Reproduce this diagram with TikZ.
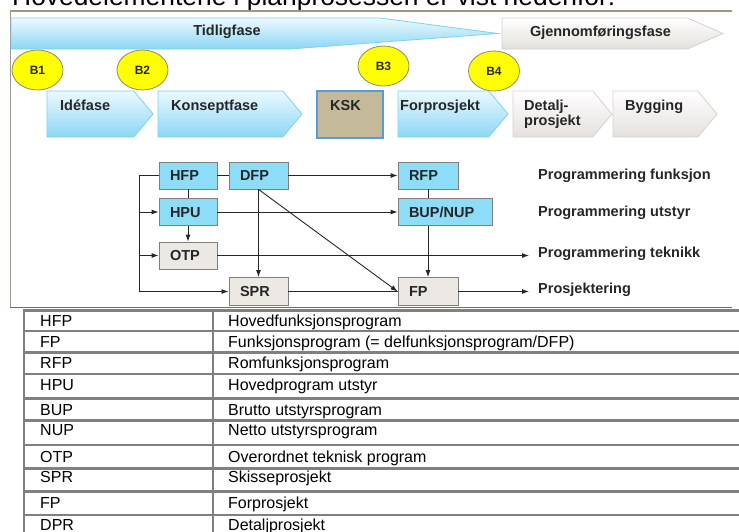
\documentclass[tikz,border=0pt]{standalone}
\usepackage{fontspec}
\setmainfont{Liberation Sans}
\usetikzlibrary{shapes.geometric,shapes.symbols,arrows.meta}
\definecolor{bleunoeud}{RGB}{141,221,248}
\definecolor{grisnoeud}{RGB}{236,233,229}
\definecolor{bordgris}{RGB}{128,128,128}
\definecolor{jaune}{RGB}{255,255,0}
\definecolor{bordjaune}{RGB}{140,140,100}
\definecolor{cielclair}{RGB}{236,249,254}
\definecolor{ciel}{RGB}{140,215,244}
\definecolor{bordciel}{RGB}{125,210,242}
\definecolor{perle}{RGB}{228,225,221}
\definecolor{bordperle}{RGB}{214,210,205}
\definecolor{sable}{RGB}{196,186,153}
\definecolor{bordksk}{RGB}{91,155,213}
\definecolor{cadre}{RGB}{160,150,135}
\definecolor{sarcelle}{RGB}{70,128,128}
\definecolor{ligne}{RGB}{128,128,128}
\begin{document}
\begin{tikzpicture}[x=1pt,y=-1pt]
\useasboundingbox (0,0) rectangle (739,531);
% définition des styles
\tikzstyle{etiquette}=[inner sep=0pt,font=\fontsize{14.5}{15}\selectfont\bfseries,text=black!85]
\tikzstyle{phase}=[signal,signal to=east,signal from=nowhere,signal pointer angle=100,minimum height=46pt,inner sep=0pt,line width=0.8pt,draw=bordciel,top color=cielclair,bottom color=ciel]
\tikzstyle{phasegrise}=[phase,draw=bordperle,top color=white,bottom color=perle]
\tikzstyle{jalon}=[ellipse,draw=bordjaune,line width=0.8pt,fill=jaune,minimum width=51pt,minimum height=40pt,inner sep=0pt,font=\fontsize{12}{14}\selectfont\bfseries,text=black!85]
\tikzstyle{boite}=[rectangle,draw=bordgris,line width=0.8pt,fill=bleunoeud,minimum height=27pt,inner xsep=11pt,inner ysep=0pt,align=left,text height=10.5pt,text depth=0pt,font=\fontsize{14.5}{15}\selectfont\bfseries,text=black!85]
\tikzstyle{boitegrise}=[boite,fill=grisnoeud]
\tikzstyle{trait}=[draw=black!85,line width=0.9pt]
\tikzstyle{fleche}=[trait,-{Latex[length=7pt,width=5pt]}]
\tikzstyle{cellule}=[anchor=base west,inner sep=0pt,font=\fontsize{16}{19}\selectfont]
\tikzstyle{grille}=[draw=ligne,line width=2.8pt]
% le titre et le cadre
\node[anchor=base west,inner sep=0pt,font=\fontsize{26.4}{30}\selectfont] (TITRE) at (12,5) {Hovedelementene i planprosessen er vist nedenfor:};
\draw[cadre,line width=1.5pt] (732,11) -- (10.5,11) -- (10.5,307.5);
\draw[sarcelle,line width=1.8pt] (10,307.5) -- (732,307.5);
% les deux grandes phases
\shade[top color=cielclair,bottom color=ciel,draw=bordciel,line width=0.8pt] (11,18) -- (380,18) -- (498,33.5) -- (290,49) -- (11,49) -- cycle;
\node[etiquette] (TID) at (227,32) {Tidligfase};
\node[phasegrise,minimum width=221pt,minimum height=31pt,signal pointer angle=47] (GJE) at (594.7,33.5) {};
\node[etiquette] (GJEt) at (600.5,33) {Gjennomføringsfase};
% les phases
\node[phase,minimum width=106pt] (IDE) at (90.4,114) {};
\node[phase,minimum width=144pt] (KON) at (220.4,114) {};
\node[rectangle,draw=bordksk,line width=1.2pt,fill=sable,minimum width=66pt,minimum height=47pt] (KSK) at (350,114.5) {};
\node[phase,minimum width=110pt] (FOR) at (443.4,114) {};
\node[phasegrise,minimum width=99pt] (DET) at (552.9,114) {};
\node[phasegrise,minimum width=104pt] (BYG) at (655.4,114) {};
\node[etiquette,anchor=base west] (IDEt) at (60,110) {Idéfase};
\node[etiquette,anchor=base west] (KONt) at (171,110) {Konseptfase};
\node[etiquette,anchor=base west] (KSKt) at (330,110) {KSK};
\node[etiquette,anchor=base west] (FORt) at (400,110) {Forprosjekt};
\node[etiquette,anchor=west,align=left] (DETt) at (524,113.8) {Detalj-\\prosjekt};
\node[etiquette,anchor=base west] (BYGt) at (625,110) {Bygging};
% les jalons
\node[jalon] (B1) at (37.5,70) {B1};
\node[jalon] (B2) at (142.5,70) {B2};
\node[jalon] (B3) at (383.5,66) {B3};
\node[jalon] (B4) at (494,71) {B4};
% les nœuds
\node[boite,text width=36pt] (HFP) at (188,175.5) {HFP};
\node[boite,text width=37pt] (DFP) at (258.5,175.5) {DFP};
\node[boite,text width=38pt] (RFP) at (428,175.5) {RFP};
\node[boite,text width=36pt] (HPU) at (188,212) {HPU};
\node[boite,text width=72pt] (BUP) at (445,212) {BUP/NUP};
\node[boitegrise,text width=36pt] (OTP) at (188,255.5) {OTP};
\node[boitegrise,text width=37pt,minimum height=28pt] (SPR) at (258.5,291.5) {SPR};
\node[boitegrise,text width=38pt,minimum height=28pt] (FP) at (428,291.5) {FP};
\coordinate (RAIL) at (139,175.5);
% la légende
\node[etiquette,anchor=base west] (FON) at (538,179) {Programmering funksjon};
\node[etiquette,anchor=base west] (UTS) at (538,216) {Programmering utstyr};
\node[etiquette,anchor=base west,inner xsep=9pt] (TEK) at (529,257.7) {Programmering teknikk};
\node[etiquette,anchor=base west,inner xsep=9pt] (PRO) at (529,293.7) {Prosjektering};
% les flèches
\draw[trait] (HFP) -- (DFP);
\draw[trait] (HFP) -- (HPU);
\draw[trait] (RFP.south) -- (RFP.south |- BUP.north);
\draw[trait] (SPR) -- (FP);
\draw[fleche] (HFP.west) -- (RAIL) |- (SPR.west);
\draw[fleche] (RAIL |- HPU) -- (HPU);
\draw[fleche] (RAIL |- OTP) -- (OTP);
\draw[fleche] (HPU) -- (OTP);
\draw[fleche] (DFP) -- (RFP);
\draw[fleche] (HPU) -- (BUP);
\draw[fleche] (DFP) -- (SPR);
\draw[fleche] (DFP.south) -- (FP.west);
\draw[fleche] (FP.north |- BUP.south) -- (FP.north);
\draw[fleche] (OTP) -- (OTP -| TEK.west);
\draw[fleche] (FP) -- (FP -| PRO.west);
% le tableau
\draw[grille] (24,310.7) -- (745,310.7);
\draw[grille] (24,331) -- (745,331);
\draw[grille] (24,352.3) -- (745,352.3);
\draw[grille] (24,374) -- (745,374);
\draw[grille] (24,398.3) -- (745,398.3);
\draw[grille] (24,420.7) -- (745,420.7);
\draw[grille] (24,445) -- (745,445);
\draw[grille] (24,468.3) -- (745,468.3);
\draw[grille] (24,491.7) -- (745,491.7);
\draw[grille] (24,515) -- (745,515);
\draw[grille] (24,309.3) -- (24,540);
\draw[grille] (213,309.3) -- (213,540);
\node[cellule] (T1) at (40,326.7) {HFP};
\node[cellule] (D1) at (228,326.7) {Hovedfunksjonsprogram};
\node[cellule] (T2) at (40,347.4) {FP};
\node[cellule] (D2) at (228,347.4) {Funksjonsprogram (= delfunksjonsprogram/DFP)};
\node[cellule] (T3) at (40,368.7) {RFP};
\node[cellule] (D3) at (228,368.7) {Romfunksjonsprogram};
\node[cellule] (T4) at (40,390.7) {HPU};
\node[cellule] (D4) at (228,390.7) {Hovedprogram utstyr};
\node[cellule] (T5) at (40,415.7) {BUP};
\node[cellule] (D5) at (228,415.7) {Brutto utstyrsprogram};
\node[cellule] (T6) at (40,435.7) {NUP};
\node[cellule] (D6) at (228,435.7) {Netto utstyrsprogram};
\node[cellule] (T7) at (40,462.4) {OTP};
\node[cellule] (D7) at (228,462.4) {Overordnet teknisk program};
\node[cellule] (T8) at (40,482.4) {SPR};
\node[cellule] (D8) at (228,482.4) {Skisseprosjekt};
\node[cellule] (T9) at (40,508.7) {FP};
\node[cellule] (D9) at (228,508.7) {Forprosjekt};
\node[cellule] (T10) at (40,530.7) {DPR};
\node[cellule] (D10) at (228,530.7) {Detaljprosjekt};
\end{tikzpicture}
\end{document}
